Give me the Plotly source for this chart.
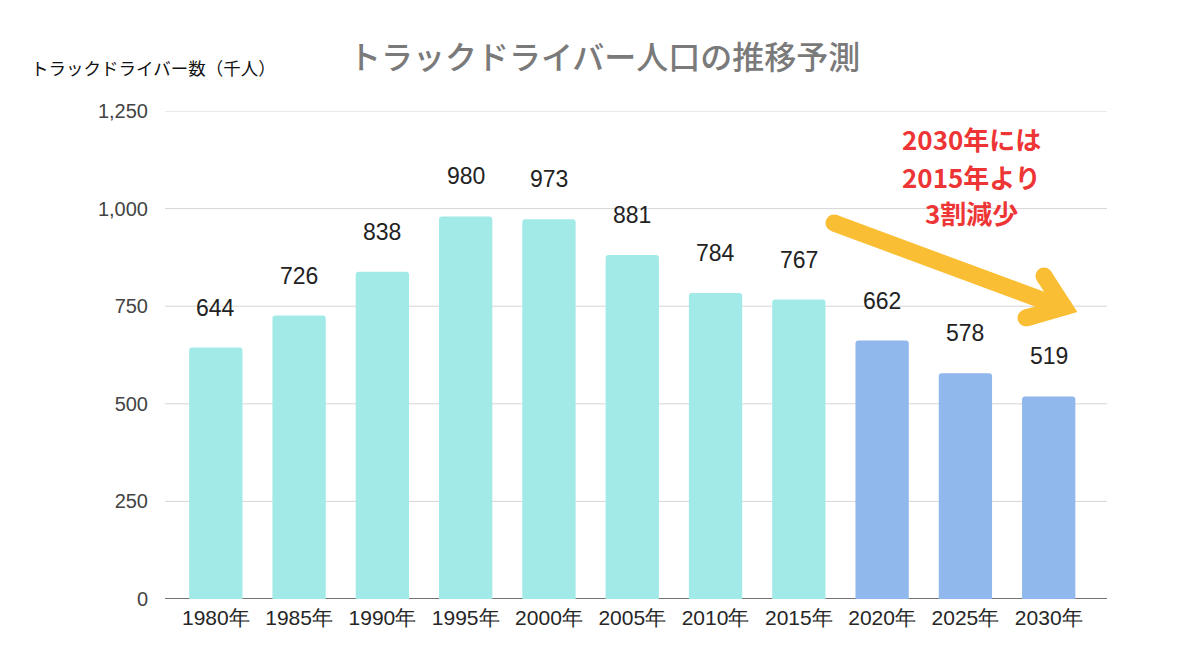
import plotly.graph_objects as go

years = ["1980年", "1985年", "1990年", "1995年", "2000年", "2005年", "2010年", "2015年", "2020年", "2025年", "2030年"]
drivers = [644, 726, 838, 980, 973, 881, 784, 767, 662, 578, 519]
is_forecast = [False] * 8 + [True] * 3
y_ticks = [0, 250, 500, 750, 1000, 1250]
y_tick_labels = ["0", "250", "500", "750", "1,000", "1,250"]
note_lines = ["2030年には", "2015年より", "3割減少"]

ACTUAL = "#A2EAE8"
FORECAST = "#90B8EC"
YELLOW = "#F9BE33"

# page has an 8px body margin; compensate
OFF = 8
W, H = 1200 - OFF, 672 - OFF
L, T = 165 - OFF, 111 - OFF
R = W - (1107 - OFF)
B = H - (599 - OFF)
PW, PH = W - L - R, H - T - B

def px(x):
    return (x - OFF - L) / PW

def py(y):
    return (H - B - (y - OFF)) / PH

fig = go.Figure()
fig.add_trace(go.Bar(
    x=years, y=drivers,
    marker=dict(color=[FORECAST if f else ACTUAL for f in is_forecast], cornerradius=3, line=dict(width=0)),
    hoverinfo="x+y",
))

for yr, v in zip(years, drivers):
    fig.add_annotation(x=yr, y=v, text=str(v), showarrow=False, yanchor="middle", yshift=40,
                       font=dict(family="Liberation Sans, Arial, sans-serif", size=23, color="#222222"))

shapes = []
for t in y_ticks:
    shapes.append(dict(type="line", xref="paper", yref="y", x0=0, x1=1, y0=t, y1=t,
                       line=dict(color="#444444" if t == 0 else "#D6D6D6", width=1.5 if t == 0 else 1), layer="below"))

# yellow arrow (decoration)
aw = 17
shapes.append(dict(type="line", xref="paper", yref="paper", x0=px(834), y0=py(223), x1=px(1058), y1=py(306),
                   line=dict(color=YELLOW, width=aw)))
shapes.append(dict(type="path", xref="paper", yref="paper",
                   path=f"M {px(1044)},{py(276)} L {px(1064)},{py(307)} L {px(1026)},{py(318)}",
                   line=dict(color=YELLOW, width=aw)))
for cx, cy in [(834, 223), (1044, 276), (1026, 318), (1064, 307)]:
    r = aw / 2
    shapes.append(dict(type="circle", xref="paper", yref="paper",
                       x0=px(cx - r), x1=px(cx + r), y0=py(cy + r), y1=py(cy - r),
                       fillcolor=YELLOW, line=dict(width=0)))

fig.update_layout(shapes=shapes)

fig.add_annotation(xref="paper", yref="paper", x=px(604), y=py(55), xanchor="center", yanchor="middle",
                   text="トラックドライバー人口の推移予測",
                   showarrow=False, font=dict(family="Noto Sans CJK JP", size=32, color="#7A7A7A", weight=500))
fig.add_annotation(xref="paper", yref="paper", x=px(29), y=py(67), xanchor="left", yanchor="middle",
                   text="トラックドライバー数（千人）",
                   showarrow=False, font=dict(family="Noto Sans CJK JP", size=17.5, color="#111111"))
for line, cy in zip(note_lines, [138, 176, 213]):
    fig.add_annotation(xref="paper", yref="paper", x=px(971), y=py(cy), xanchor="center", yanchor="middle",
                       text=f"<b>{line}</b>", showarrow=False,
                       font=dict(family="Noto Sans CJK JP", size=26, color="#EE3535"))

fig.update_layout(
    width=W, height=H,
    margin=dict(l=L, r=R, t=T, b=B, pad=0),
    paper_bgcolor="white", plot_bgcolor="white",
    bargap=0.36,
    showlegend=False,
    xaxis=dict(range=[-0.61, 10.70], showgrid=False, showline=False, zeroline=False, ticks="",
               tickfont=dict(family="Liberation Sans, Arial, sans-serif", size=21, color="#262626"), ticklabelstandoff=4),
    yaxis=dict(range=[0, 1250], tickvals=y_ticks, ticktext=y_tick_labels, showgrid=False, zeroline=False,
               showline=False, ticks="",
               tickfont=dict(family="Liberation Sans, Arial, sans-serif", size=20, color="#444444"), ticklabelstandoff=16),
)

fig.write_html("out.html")
